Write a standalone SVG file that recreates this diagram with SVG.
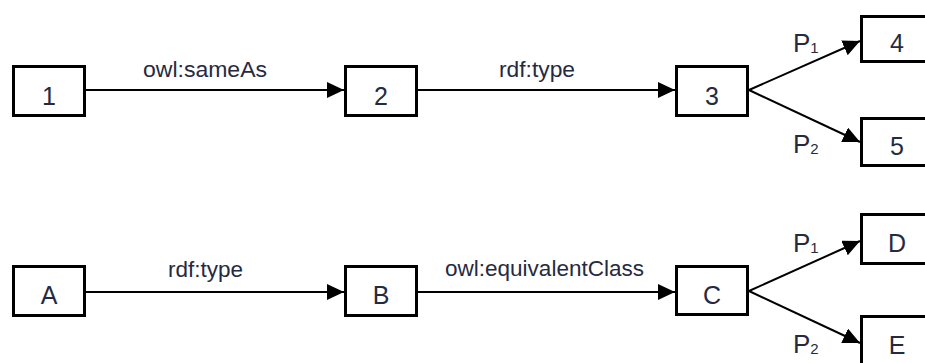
<svg xmlns="http://www.w3.org/2000/svg" width="925" height="363" viewBox="0 0 925 363">
  <defs>
    <marker id="arr" markerUnits="userSpaceOnUse" markerWidth="18" markerHeight="17" refX="17" refY="8" orient="auto">
      <path d="M0,0 L17,8 L0,16 z" fill="#000"/>
    </marker>
  </defs>
  <style>
    .box { fill: #fff; stroke: #000; stroke-width: 3; }
    .nt { font-family: "Liberation Sans", Arial, sans-serif; font-size: 25px; fill: #262a40; text-anchor: middle; }
    .lbl { font-family: "Liberation Sans", Arial, sans-serif; font-size: 22px; fill: #262a40; }
    .p { font-family: "Liberation Sans", Arial, sans-serif; font-size: 26px; fill: #262a40; }
    .sub { font-size: 15px; }
    .edge { stroke: #000; stroke-width: 2; fill: none; marker-end: url(#arr); }
  </style>
  <rect width="925" height="363" fill="#fff"/>

  <g id="connectors">
    <line class="edge" x1="86" y1="90" x2="344" y2="90"/>
    <line class="edge" x1="418" y1="90" x2="675" y2="90"/>
    <line class="edge" x1="749" y1="90" x2="860" y2="41"/>
    <line class="edge" x1="749" y1="90" x2="860" y2="142"/>
    <line class="edge" x1="86" y1="292" x2="344" y2="292"/>
    <line class="edge" x1="418" y1="292" x2="675" y2="292"/>
    <line class="edge" x1="749" y1="291" x2="860" y2="241"/>
    <line class="edge" x1="749" y1="291" x2="860" y2="343"/>
    <text class="lbl" x="143" y="77" textLength="124" lengthAdjust="spacingAndGlyphs">owl:sameAs</text>
    <text class="lbl" x="499" y="77" textLength="76" lengthAdjust="spacingAndGlyphs">rdf:type</text>
    <text class="p" x="793" y="52">P<tspan class="sub" dy="1">1</tspan></text>
    <text class="p" x="793" y="153">P<tspan class="sub" dy="1">2</tspan></text>
    <text class="lbl" x="168" y="277" textLength="75" lengthAdjust="spacingAndGlyphs">rdf:type</text>
    <text class="lbl" x="445" y="276" textLength="199" lengthAdjust="spacingAndGlyphs">owl:equivalentClass</text>
    <text class="p" x="793" y="252">P<tspan class="sub" dy="1">1</tspan></text>
    <text class="p" x="793" y="353">P<tspan class="sub" dy="1">2</tspan></text>
  </g>

  <g id="n1"><rect class="box" x="13.5" y="66.5" width="71" height="49"/><text class="nt" x="49" y="105">1</text></g>
  <g id="n2"><rect class="box" x="345.5" y="66.5" width="71" height="49"/><text class="nt" x="381" y="105">2</text></g>
  <g id="n3"><rect class="box" x="676.5" y="66.5" width="71" height="49"/><text class="nt" x="712" y="105">3</text></g>
  <g id="n4"><rect class="box" x="861.5" y="16.5" width="71" height="45"/><text class="nt" x="897" y="52">4</text></g>
  <g id="n5"><rect class="box" x="861.5" y="118.5" width="71" height="47"/><text class="nt" x="897" y="155">5</text></g>

  <g id="nA"><rect class="box" x="13.5" y="266.5" width="71" height="49"/><text class="nt" x="49" y="304">A</text></g>
  <g id="nB"><rect class="box" x="345.5" y="266.5" width="71" height="49"/><text class="nt" x="381" y="304">B</text></g>
  <g id="nC"><rect class="box" x="676.5" y="266.5" width="71" height="48"/><text class="nt" x="712" y="304">C</text></g>
  <g id="nD"><rect class="box" x="861.5" y="214.5" width="71" height="49"/><text class="nt" x="897" y="252">D</text></g>
  <g id="nE"><rect class="box" x="861.5" y="316.5" width="71" height="49"/><text class="nt" x="897" y="354">E</text></g>
</svg>
